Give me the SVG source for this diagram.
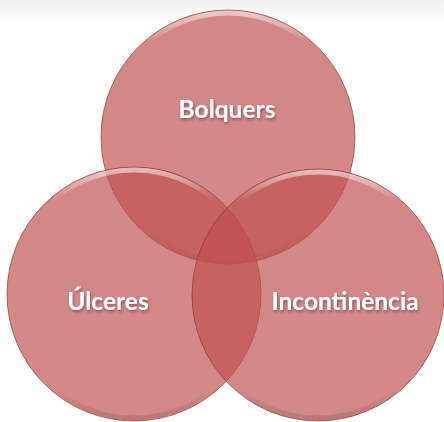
<svg xmlns="http://www.w3.org/2000/svg" width="444" height="422" viewBox="0 0 444 422">
<defs>
<linearGradient id="bg" x1="0" y1="0" x2="0" y2="1">
<stop offset="0" stop-color="#f2f2f2"/><stop offset="0.06" stop-color="#ffffff"/>
</linearGradient>
<linearGradient id="rim" x1="0" y1="0" x2="0" y2="1">
<stop offset="0" stop-color="#ffffff" stop-opacity="0.55"/><stop offset="0.12" stop-color="#ffffff" stop-opacity="0"/>
<stop offset="0.88" stop-color="#000000" stop-opacity="0"/><stop offset="1" stop-color="#000000" stop-opacity="0.12"/>
</linearGradient>
<filter id="sh" x="-20%" y="-30%" width="140%" height="170%">
<feDropShadow dx="1" dy="2" stdDeviation="1.5" flood-color="#000" flood-opacity="0.35"/>
</filter>
</defs>
<style>
.c{fill:#c0504d;fill-opacity:0.68;stroke:#8c3a38;stroke-opacity:0.7;stroke-width:1}
.r{fill:none;stroke:url(#rim);stroke-width:5}
.t{font-family:Lato,"Open Sans","Liberation Sans",sans-serif;font-weight:bold;font-size:24.5px;fill:#ffffff;text-anchor:middle;filter:url(#sh)}
</style>
<rect width="444" height="422" fill="url(#bg)"/>
<g id="bolquers">
<circle class="c" cx="228" cy="137" r="127"/>
<circle class="r" cx="228" cy="137" r="124"/>
</g>
<g id="ulceres">
<circle class="c" cx="134" cy="294" r="127"/>
<circle class="r" cx="134" cy="294" r="124"/>
</g>
<g id="incontinencia">
<circle class="c" cx="318" cy="295" r="126"/>
<circle class="r" cx="318" cy="295" r="123"/>
</g>
<g id="labels">
<text class="t" x="227" y="118">Bolquers</text>
<text class="t" x="108" y="310">Úlceres</text>
<text class="t" x="345" y="310">Incontinència</text>
</g>
<g id="connectors"/>
</svg>
